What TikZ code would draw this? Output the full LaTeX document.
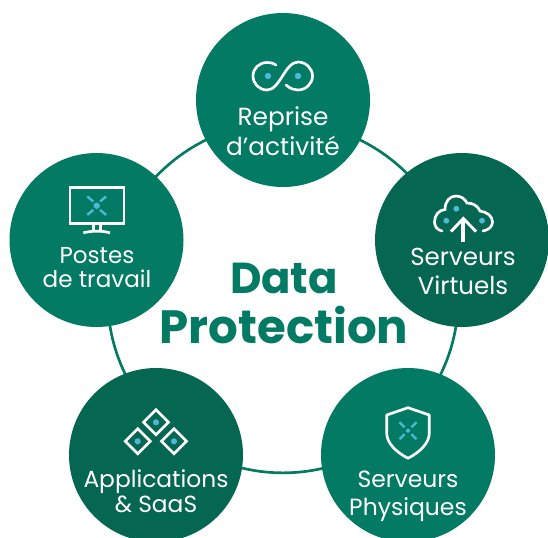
\documentclass[tikz,border=0pt]{standalone}
\usepackage{fontspec}
\setmainfont{Poppins}
\usepackage{xcolor}
\definecolor{kgreen}{HTML}{037A63}
\definecolor{kdark}{HTML}{056652}
\definecolor{kblue}{HTML}{4DB8D8}

\tikzset{
  bubble/.style={circle, fill=#1, minimum size=130.5pt, inner sep=0pt},
  lab/.style 2 args={text=white, align=center, font=\fontsize{#1}{#2}\selectfont, inner sep=0pt},
  icon/.style={white, line width=2pt},
  spot/.style={fill=kblue, draw=none},
  ray/.style={kblue, line width=1.8pt}
}

\begin{document}
\begin{tikzpicture}[x=0.75pt, y=-0.75pt]
\useasboundingbox (0,0) rectangle (548,537);

% ring
\node[circle, draw=kgreen, line width=2pt, minimum size=263pt, inner sep=0pt] (ring) at (283,297.5) {};

% bubbles
\node[bubble=kgreen] (reprise) at (283,100) {};
\node[bubble=kdark] (virtuels) at (462,240) {};
\node[bubble=kgreen] (postes) at (96.5,240) {};
\node[bubble=kdark] (apps) at (156,455) {};
\node[bubble=kgreen] (physiques) at (408,455) {};

% labels
\node[lab={18.6}{22}] (repriseT) at (283,131) {Reprise\\d’activité};
\node[lab={18.4}{22}] (virtuelsT) at (463,271.5) {Serveurs\\Virtuels};
\node[lab={17.3}{18}] (postesT) at (97,268) {Postes\\de travail};
\node[lab={17.5}{19}] (appsT) at (156,491.5) {Applications\\\&~SaaS};
\node[lab={17.6}{21}] (physiquesT) at (408,496) {Serveurs\\Physiques};

% title
\node[text=kgreen, align=center, inner sep=0pt, font=\fontsize{32.5}{37.5}\selectfont\bfseries] (title) at (284,303) {Data\\\fontsize{35}{37.5}\selectfont Protection};

% infinity
\draw[icon, line cap=round] (276,65) .. controls (272.5,62.8) and (270.5,62.5) .. (267,62.5)
  .. controls (259,62.5) and (253,68.5) .. (253,76)
  .. controls (253,83.5) and (259,90) .. (267,90)
  .. controls (280,90) and (285,62) .. (298,62)
  .. controls (306,62) and (312.5,68.5) .. (312.5,76)
  .. controls (312.5,83.5) and (306,90) .. (298,90)
  .. controls (294,90) and (291,89) .. (286,85);
\fill[spot] (268,76) circle (2.4pt);
\fill[spot] (298,76) circle (2.4pt);

% cloud
\draw[icon, line cap=round] (442,231) .. controls (437,230) and (434.5,226) .. (434.5,222)
  .. controls (434.5,215) and (439,210) .. (445,209.5)
  .. controls (445,201) and (450,196) .. (456,196)
  .. controls (461,196) and (465,199) .. (467,203)
  .. controls (473,203) and (478,206) .. (480,211)
  .. controls (487,212) and (492.5,216) .. (492.5,222)
  .. controls (492.5,226) and (489,230) .. (483,231);
\draw[white, line width=2.2pt] (451,231.5) -- (463.3,218.5) -- (476,231.5);
\draw[white, line width=3pt] (463.3,219) -- (463.3,241.7);
\fill[spot] (446.3,220.7) circle (2.2pt);
\fill[spot] (456.3,208.7) circle (2.2pt);
\fill[spot] (482,220.7) circle (2.2pt);

% monitor
\draw[icon] (70,187.5) rectangle (124,223.3);
\draw[icon] (93.3,223.3) -- (93.3,231);
\draw[icon] (100.7,223.3) -- (100.7,231);
\draw[icon] (83.3,232.8) .. controls (92,230.6) and (102,230.6) .. (110,232.8);
\fill[spot] (96.7,205.7) circle (2.4pt);
\foreach \dx/\dy in {-1/-1, 1/-1, -1/1, 1/1}
\draw[ray] (96.7+3.4*\dx,205.7+4.2*\dy) -- (96.7+9.4*\dx,205.7+9.2*\dy);

% diamonds
\foreach \x/\y in {156/422.3, 137.7/441.3, 174/441.3}
{
\draw[icon, line join=miter] (\x,\y-12.5) -- (\x+12.5,\y) -- (\x,\y+12.5) -- (\x-12.5,\y) -- cycle;
\fill[spot] (\x,\y) circle (2.3pt);
}

% shield
\draw[icon, line join=round] (408,407.7) -- (429.3,415) -- (429.3,433)
  .. controls (429.3,443) and (420,452) .. (408,458.3)
  .. controls (396,452) and (386.7,443) .. (386.7,433) -- (386.7,415) -- cycle;
\fill[spot] (408,430.7) circle (1.5pt);
\foreach \dx/\dy in {-1/-1, 1/-1, -1/1, 1/1}
\draw[ray] (408+3.5*\dx,430.7+3.5*\dy) -- (408+8.5*\dx,430.7+8.5*\dy);

\end{tikzpicture}
\end{document}
